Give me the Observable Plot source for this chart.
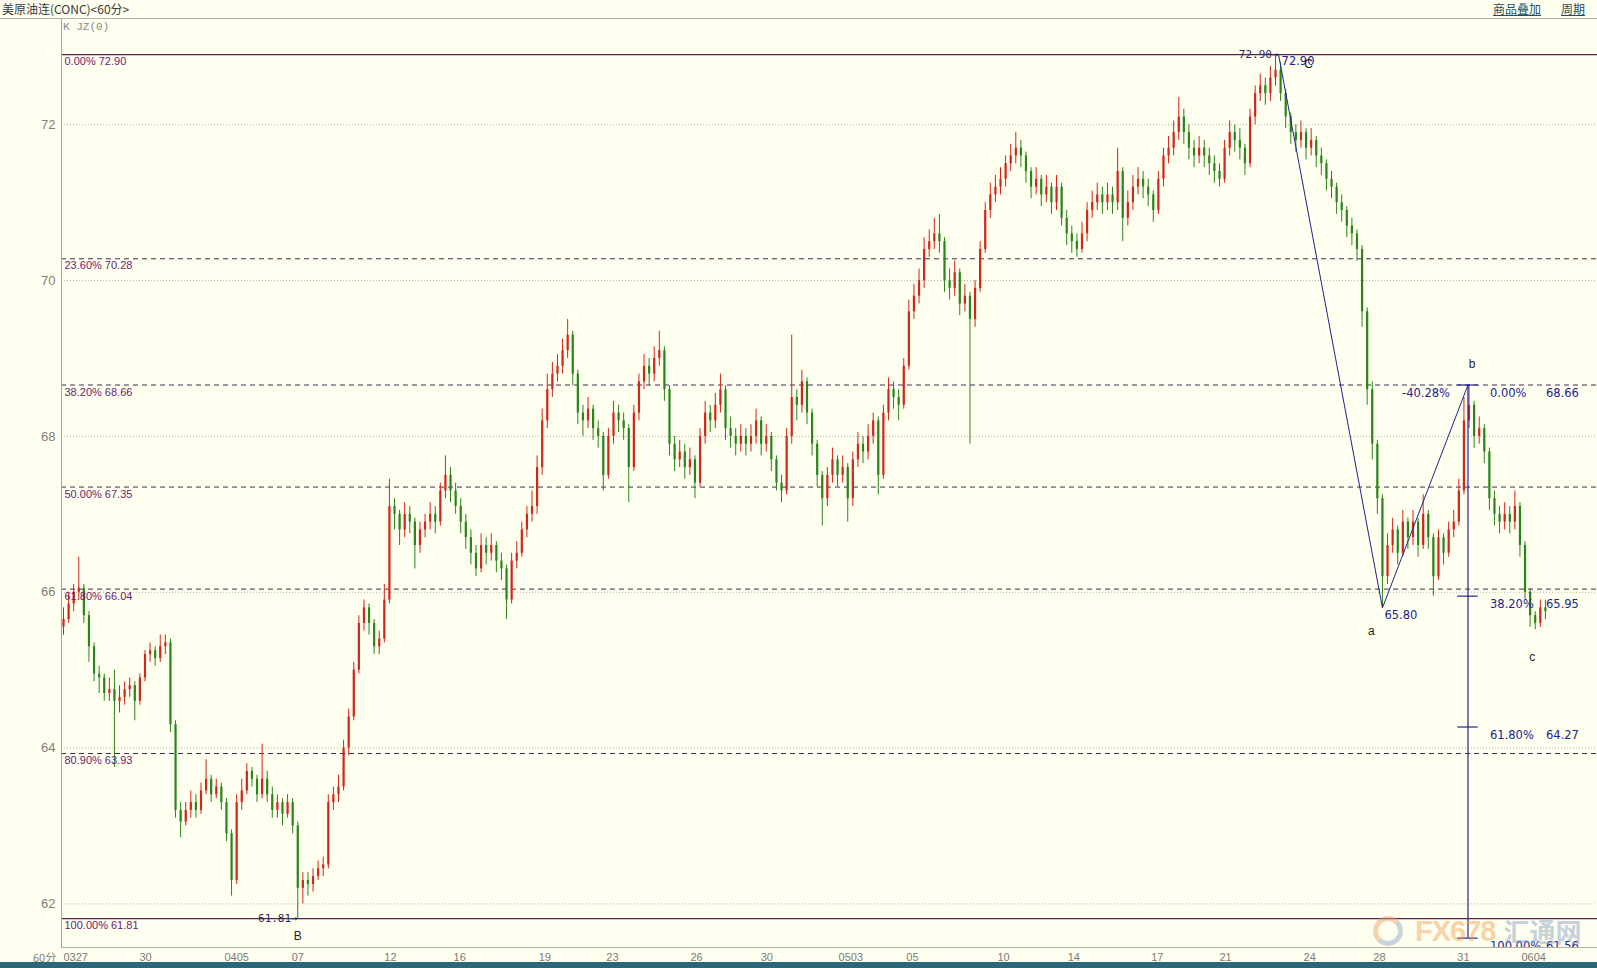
<!DOCTYPE html>
<html><head><meta charset="utf-8">
<script src="https://cdn.jsdelivr.net/npm/d3@7"></script>
<script src="https://cdn.jsdelivr.net/npm/@observablehq/plot@0.6"></script>
<style>
html,body{margin:0;padding:0;background:#fffff0;width:1597px;height:968px;overflow:hidden;}
body{position:relative;font-family:"Liberation Sans",Arial,sans-serif;}
#header{position:absolute;left:0;top:0;width:1597px;height:18px;border-bottom:1px solid #b4b4a4;}
#title{position:absolute;left:2px;top:1px;font-size:12px;color:#3a3a3a;font-family:"Noto Sans CJK SC","Liberation Sans",sans-serif;line-height:16px;}
.lnk{position:absolute;top:1px;font-size:12px;color:#1f4f5f;text-decoration:underline;font-family:"Noto Sans CJK SC",sans-serif;line-height:16px;}
#kjz{position:absolute;left:63px;top:21px;font-size:11px;color:#8a8a8a;font-family:"Liberation Mono",monospace;}
#chart{position:absolute;left:0;top:19px;}
#unit{position:absolute;left:33px;top:949px;font-size:11px;color:#808080;font-family:"Noto Sans CJK SC",sans-serif;line-height:16px;}
#bar{position:absolute;left:0;top:962px;width:1597px;height:6px;background:#2b6877;}
#wm{position:absolute;left:1373px;top:914px;height:32px;opacity:0.45;pointer-events:none;white-space:nowrap;line-height:32px;}
#wm .ring{display:inline-block;width:20px;height:20px;border:5px solid #e8a060;border-radius:50%;vertical-align:middle;border-right-color:#8aa4c0;border-bottom-color:#8aa4c0;}
#wm .fx{font-size:29px;font-weight:bold;color:#f0a050;font-family:"Liberation Sans Narrow","Liberation Sans",sans-serif;vertical-align:middle;margin-left:12px;letter-spacing:-1px;}
#wm .cn{font-size:26px;font-weight:bold;color:#7f9cc0;font-family:"Noto Sans CJK SC",sans-serif;vertical-align:middle;margin-left:8px;}
</style></head>
<body>
<div id="header"><span id="title">美原油连(CONC)&lt;60分&gt;</span><span class="lnk" style="left:1493px">商品叠加</span><span class="lnk" style="left:1561px">周期</span></div>
<div id="kjz">K JZ(0)</div>
<div id="chart"></div>
<div id="unit">60分</div>
<div id="wm"><span class="ring"></span><span class="fx">FX678</span><span class="cn">汇通网</span></div>
<div id="bar"></div>
<script>
// ---- data (one value per ~5px slice of the picture) ----
const firstOpen = 65.55;
const closes = [
65.65,65.85,66.0,66.05,65.7,65.3,64.95,64.9,64.7,64.75,
64.6,64.65,64.75,64.8,64.6,64.9,65.2,65.25,65.15,65.3,
65.35,64.3,63.2,63.05,63.2,63.3,63.2,63.45,63.6,63.4,
63.5,63.3,62.9,62.3,63.3,63.45,63.7,63.6,63.4,63.6,
63.4,63.2,63.3,63.15,63.3,63.0,62.2,62.3,62.25,62.35,
62.45,62.5,63.3,63.4,63.5,64.0,64.4,65.0,65.6,65.8,
65.6,65.3,65.4,65.9,67.1,67.0,66.8,67.0,66.9,66.6,
66.8,66.9,67.0,66.9,67.3,67.5,67.3,67.1,66.9,66.7,
66.5,66.3,66.6,66.5,66.6,66.4,66.3,65.9,66.4,66.5,
66.8,67.0,67.1,67.6,68.2,68.6,68.8,68.9,69.1,69.3,
68.8,68.3,68.2,68.35,68.1,68.0,67.5,68.0,68.3,68.2,
68.1,67.6,68.3,68.7,68.9,68.8,69.0,69.1,68.6,67.9,
67.7,67.8,67.6,67.7,67.4,68.0,68.3,68.2,68.4,68.6,
68.1,68.0,67.9,68.0,67.9,68.0,68.2,67.9,68.0,67.7,
67.4,67.3,68.0,68.5,68.4,68.7,68.3,67.9,67.5,67.2,
67.5,67.7,67.5,67.6,67.2,67.7,67.9,67.8,68.0,68.2,
67.5,68.3,68.6,68.5,68.4,68.9,69.6,69.8,70.0,70.4,
70.5,70.6,70.5,70.0,69.9,70.1,69.7,69.8,69.5,69.9,
70.4,70.9,71.1,71.2,71.3,71.5,71.6,71.7,71.6,71.4,
71.2,71.3,71.1,71.2,71.0,71.2,70.8,70.6,70.5,70.4,
70.6,70.9,71.0,71.1,71.0,71.1,71.0,71.4,70.8,71.0,
71.2,71.3,71.2,71.1,70.9,71.3,71.6,71.7,71.9,72.1,
71.9,71.7,71.6,71.7,71.6,71.5,71.4,71.3,71.7,71.9,
71.8,71.7,71.5,72.1,72.4,72.5,72.4,72.6,72.7,72.4,
72.1,71.9,71.8,71.9,71.7,71.8,71.6,71.5,71.3,71.2,
71.0,70.9,70.7,70.6,70.4,69.6,68.6,67.9,67.2,66.2,
66.6,66.8,66.5,66.9,66.7,66.9,66.6,67.0,66.7,66.2,
66.7,66.5,66.8,66.9,67.3,68.2,68.4,68.0,68.1,67.8,
67.2,67.0,66.9,67.0,66.9,67.1,66.6,66.0,65.7,65.6,
65.8,65.75];
const highs = [
65.8,66.0,66.1,66.45,66.1,65.75,65.35,65.05,64.95,64.9,
65.0,64.8,64.85,64.9,64.85,64.95,65.25,65.35,65.3,65.45,
65.45,65.4,64.35,63.3,63.3,63.45,63.4,63.55,63.85,63.65,
63.6,63.55,63.35,62.95,63.4,63.6,63.8,63.75,63.65,64.05,
63.7,63.5,63.4,63.35,63.4,63.35,63.05,62.4,62.4,62.45,
62.55,62.6,63.4,63.5,63.65,64.1,64.5,65.1,65.7,65.9,
65.85,65.65,65.5,66.1,67.45,67.2,67.05,67.15,67.1,66.95,
66.9,67.0,67.15,67.1,67.4,67.75,67.6,67.4,67.2,67.0,
66.8,66.6,66.75,66.7,66.75,66.65,66.5,66.35,66.5,66.65,
66.9,67.1,67.3,67.75,68.35,68.8,68.95,69.05,69.25,69.5,
69.35,68.85,68.4,68.5,68.4,68.2,68.05,68.1,68.45,68.4,
68.3,68.15,68.4,68.8,69.05,69.0,69.15,69.35,69.15,68.65,
68.0,67.95,67.9,67.85,67.75,68.1,68.45,68.4,68.55,68.8,
68.65,68.25,68.1,68.15,68.1,68.15,68.35,68.25,68.15,68.05,
67.75,67.5,68.1,69.3,68.6,68.85,68.75,68.35,67.95,67.55,
67.6,67.85,67.75,67.75,67.65,67.8,68.05,68.0,68.15,68.3,
68.25,68.4,68.75,68.7,68.6,69.0,69.75,69.95,70.15,70.55,
70.65,70.8,70.85,70.55,70.15,70.25,70.15,69.95,69.85,70.0,
70.5,71.0,71.25,71.35,71.45,71.6,71.75,71.9,71.8,71.65,
71.45,71.45,71.35,71.35,71.25,71.35,71.25,70.9,70.7,70.6,
70.75,71.0,71.15,71.25,71.2,71.25,71.2,71.7,71.45,71.15,
71.35,71.45,71.4,71.3,71.15,71.4,71.7,71.85,72.05,72.35,
72.2,72.0,71.8,71.85,71.8,71.7,71.6,71.5,71.8,72.05,
72.0,71.95,71.75,72.2,72.5,72.65,72.6,72.75,72.9,72.8,
72.45,72.15,72.0,72.05,71.95,71.95,71.85,71.7,71.55,71.4,
71.25,71.1,70.95,70.8,70.65,70.45,69.65,68.7,67.95,67.25,
66.75,66.95,66.85,67.05,66.95,67.05,66.95,67.25,67.05,66.75,
66.8,66.75,66.9,67.05,67.45,68.5,68.66,68.45,68.25,68.15,
67.85,67.3,67.1,67.15,67.1,67.3,67.15,66.65,66.05,65.75,
65.9,65.9];
const lows = [
65.45,65.6,65.75,65.9,65.6,65.1,64.85,64.7,64.6,64.6,
63.75,64.45,64.55,64.65,64.35,64.55,64.85,65.1,65.05,65.1,
65.2,64.2,63.1,62.85,63.0,63.1,63.1,63.15,63.4,63.3,
63.35,63.2,62.8,62.1,62.25,63.2,63.4,63.5,63.3,63.35,
63.3,63.1,63.1,63.0,63.1,62.9,61.81,62.0,62.1,62.15,
62.3,62.35,62.45,63.2,63.3,63.45,63.9,64.35,64.95,65.5,
65.45,65.2,65.2,65.35,65.85,66.8,66.6,66.7,66.75,66.3,
66.5,66.7,66.8,66.75,66.85,67.2,67.15,67.0,66.75,66.55,
66.35,66.2,66.25,66.35,66.4,66.25,66.15,65.65,65.85,66.3,
66.45,66.7,66.9,67.0,67.5,68.1,68.5,68.7,68.8,69.0,
68.65,68.15,68.0,68.1,67.95,67.85,67.3,67.45,67.9,68.05,
67.95,67.15,67.55,68.2,68.6,68.65,68.7,68.9,68.45,67.75,
67.55,67.6,67.45,67.5,67.2,67.35,67.9,68.05,68.1,68.3,
67.95,67.85,67.75,67.8,67.75,67.8,67.9,67.75,67.8,67.55,
67.3,67.15,67.25,67.9,68.2,68.3,68.15,67.75,67.35,66.85,
67.1,67.4,67.35,67.4,66.9,67.1,67.6,67.65,67.7,67.9,
67.25,67.45,68.2,68.35,68.2,68.35,68.85,69.5,69.7,69.9,
70.3,70.4,70.35,69.85,69.75,69.8,69.55,69.6,67.9,69.4,
69.85,70.35,70.8,71.0,71.1,71.2,71.4,71.5,71.45,71.25,
71.05,71.1,70.95,71.0,70.85,70.9,70.7,70.45,70.35,70.3,
70.35,70.5,70.8,70.9,70.85,70.9,70.85,70.9,70.5,70.7,
70.9,71.1,71.05,70.95,70.75,70.85,71.2,71.5,71.6,71.8,
71.75,71.55,71.45,71.5,71.45,71.35,71.25,71.2,71.25,71.6,
71.65,71.55,71.35,71.45,72.0,72.3,72.25,72.3,72.5,72.3,
71.95,71.75,71.65,71.7,71.55,71.6,71.45,71.35,71.15,71.05,
70.85,70.75,70.55,70.45,70.25,69.4,68.4,67.7,67.0,65.8,
66.1,66.5,66.35,66.45,66.55,66.6,66.45,66.55,66.55,65.95,
66.15,66.35,66.45,66.7,66.85,67.25,68.1,67.85,67.9,67.65,
67.05,66.85,66.75,66.8,66.75,66.8,66.45,65.9,65.55,65.52,
65.55,65.65];

const dayLabels = ["0327","30","0405","07","12","16","19","23","26","30","0503","05","10","14","17","21","24","28","31","0604"];
const dayPos    = [0,14.9,31.6,44.8,63,76.6,93.3,106.6,123.1,136.9,152.2,165.5,183.4,197.2,213.6,227,243.5,257.2,273.7,286.3];
const yTicks = [62,64,66,68,70,72];

const fibLevels = [72.90,70.28,68.66,67.35,66.04,63.93,61.81];
const fibLabels = ["0.00% 72.90","23.60% 70.28","38.20% 68.66","50.00% 67.35","61.80% 66.04","80.90% 63.93","100.00% 61.81"];
const fibSolid  = [true,false,false,false,false,false,true];

const waveIdx = [238.6,259,275.8];
const waveVal = [72.90,65.80,68.66];

const projLevels = [68.66,65.95,64.27,61.56];
const projPct    = ["0.00%","38.20%","61.80%","100.00%"];
const projVal    = ["68.66","65.95","64.27","61.56"];

// ---- layout ----
const xDomain = [-0.393, 301.23];
const yDomain = [61.44, 73.3515];
const up = "#d2261a", down = "#2a8418";
const blue = "#22228e", purple = "#6e1a70";

const candles = closes.map((c, i) => ({i, open: i === 0 ? firstOpen : closes[i-1], close: c, high: highs[i], low: lows[i]}));
const fib = fibLevels.map((v, k) => ({level: v, label: fibLabels[k], solid: fibSolid[k]}));
const wave = waveIdx.map((x, k) => ({x, y: waveVal[k]}));
const bIdx = waveIdx[2];
const proj = projLevels.map((v, k) => ({level: v, pct: projPct[k], val: projVal[k]}));
const days = dayLabels.map((t, k) => ({pos: dayPos[k], label: t}));
const col = d => d.close >= d.open ? up : down;

const chart = Plot.plot({
  width: 1597, height: 949,
  marginLeft: 61, marginRight: 0, marginTop: 0, marginBottom: 21,
  x: {domain: xDomain, axis: null},
  y: {domain: yDomain, axis: null},
  style: {background: "transparent", color: "#808080", fontFamily: "Liberation Sans, sans-serif", overflow: "visible"},
  marks: [
    Plot.ruleY(yTicks, {stroke: "#b4b4a4", strokeDasharray: "1,2"}),
    Plot.ruleY(fib.filter(d => d.solid), {y: "level", stroke: "#5e1e5a", strokeWidth: 1.3}),
    Plot.ruleY(fib.filter(d => !d.solid), {y: "level", stroke: "#3e2a56", strokeDasharray: "5,4"}),
    Plot.ruleX(candles, {x: "i", y1: "low", y2: "high", stroke: col, strokeWidth: 1}),
    Plot.ruleX(candles, {x: "i", y1: "open", y2: "close", stroke: col, strokeWidth: 2.2}),
    Plot.ruleX([xDomain[0]], {stroke: "#a4a4a4"}),
    Plot.ruleY([yDomain[0]], {stroke: "#b0b0a0"}),
    Plot.axisY(yTicks, {anchor: "left", tickSize: 0, tickPadding: 6, fontSize: 13, tickFormat: d => String(d)}),
    Plot.text(days, {x: "pos", y: () => yDomain[0], text: "label", dy: 10, textAnchor: "start", fontSize: 11, fill: "#7a7a7a"}),
    Plot.text(fib, {x: () => xDomain[0], y: "level", text: "label", dx: 3, dy: 7, textAnchor: "start", fontSize: 11, fill: purple}),
    Plot.line(wave, {x: "x", y: "y", stroke: blue, strokeWidth: 1}),
    Plot.ruleX([bIdx], {y1: projLevels[3], y2: projLevels[0], stroke: blue, strokeWidth: 1.2}),
    Plot.ruleY(proj, {y: "level", x1: () => bIdx - 2, x2: () => bIdx + 2, stroke: blue, strokeWidth: 1.2}),
    Plot.text(proj, {x: () => bIdx, y: "level", text: "pct", dx: 22, dy: 8, textAnchor: "start", fontSize: 11.5, fontFamily: "DejaVu Sans", fill: blue, clip: true}),
    Plot.text(proj, {x: () => bIdx, y: "level", text: "val", dx: 78, dy: 8, textAnchor: "start", fontSize: 11.5, fontFamily: "DejaVu Sans", fill: blue, clip: true}),
    Plot.text([wave[2]], {x: "x", y: "y", text: () => "-40.28%", dx: -18, dy: 8, textAnchor: "end", fontSize: 11.5, fontFamily: "DejaVu Sans", fill: blue}),
    Plot.text([wave[2]], {x: "x", y: "y", text: () => "b", dx: 4, dy: -21, fontSize: 12, fill: "#222"}),
    Plot.text([wave[1]], {x: "x", y: "y", text: () => "65.80", dx: 2, dy: 7, textAnchor: "start", fontSize: 11.5, fontFamily: "DejaVu Sans", fill: blue}),
    Plot.text([wave[1]], {x: "x", y: "y", text: () => "a", dx: -11, dy: 23, fontSize: 12, fill: "#222"}),
    Plot.text([{x: 289, y: lows[289]}], {x: "x", y: "y", text: () => "c", dx: -3, dy: 28, fontSize: 12, fill: "#222"}),
    Plot.text([wave[0]], {x: "x", y: "y", text: () => "72.90→", dx: 0, dy: 0, textAnchor: "end", fontSize: 11, fontFamily: "DejaVu Sans Mono", fill: "#2a2a5a"}),
    Plot.text([wave[0]], {x: "x", y: "y", text: () => "72.90", dx: 3, dy: 7, textAnchor: "start", fontSize: 11.5, fontFamily: "DejaVu Sans", fill: blue}),
    Plot.text([wave[0]], {x: "x", y: "y", text: () => "C", dx: 30, dy: 9, fontSize: 12, fill: "#222"}),
    Plot.text([{x: 46, y: fibLevels[6]}], {x: "x", y: "y", text: () => "61.81→", dx: 0, dy: 0, textAnchor: "end", fontSize: 11, fontFamily: "DejaVu Sans Mono", fill: "#2a2a5a"}),
    Plot.text([{x: 46, y: fibLevels[6]}], {x: "x", y: "y", text: () => "B", dy: 17, fontSize: 12, fill: "#222"})
  ]
});
document.getElementById("chart").appendChild(chart);
</script>
</body></html>
